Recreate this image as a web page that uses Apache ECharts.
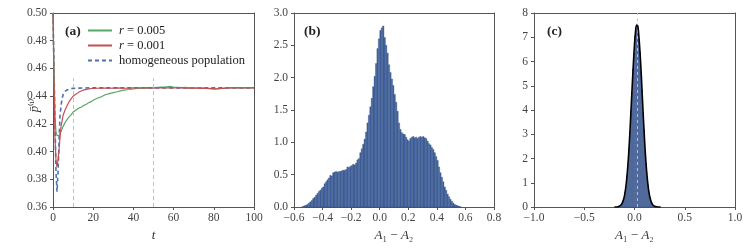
<!DOCTYPE html>
<html>
<head>
<meta charset="utf-8">
<script src="https://cdn.jsdelivr.net/npm/echarts@6/dist/echarts.min.js"></script>
<style>html,body{margin:0;padding:0;background:#fff}#c{width:750px;height:250px}</style>
</head>
<body>
<div id="c"></div>
<script>
// ---------- Panel (a): mean p(1) vs t ----------
const tGreen = [0,0.5,1,1.5,2,2.5,3,3.5,4,5,6,7,8,9,10,11,12,13,14,15,16,17,18,19,20,22,24,26,28,30,32,34,36,38,40,42,44,46,48,50,52,54,56,58,60,62,64,66,68,70,72,74,76,78,80,82,84,86,88,90,92,94,96,98,100];
const pGreen = [0.500,0.460,0.425,0.414,0.4115,0.411,0.4115,0.413,0.4145,0.418,0.421,0.423,0.425,0.4265,0.4285,0.4295,0.4305,0.4315,0.432,0.433,0.4338,0.4345,0.4355,0.436,0.437,0.4385,0.4395,0.441,0.4418,0.4425,0.4432,0.444,0.4445,0.4448,0.4452,0.4455,0.4457,0.4458,0.4458,0.446,0.4463,0.4465,0.4466,0.4470,0.4466,0.4464,0.4462,0.4463,0.4460,0.4461,0.4458,0.4460,0.4457,0.4456,0.4452,0.4454,0.4457,0.4456,0.4459,0.4460,0.4461,0.4460,0.4459,0.4460,0.4461];
const tRed = [0,0.5,1,1.5,2,2.5,3,3.5,4,4.5,5,6,7,8,9,10,11,12,13,14,15,16,17,18,19,20,22,24,26,28,30,32,34,36,38,40,42,44,46,48,50,52,54,56,58,60,62,64,66,68,70,72,74,76,78,80,82,84,86,88,90,92,94,96,98,100];
const pRed = [0.500,0.450,0.410,0.393,0.389,0.394,0.401,0.410,0.418,0.422,0.426,0.430,0.433,0.436,0.438,0.440,0.441,0.442,0.443,0.4437,0.4443,0.4447,0.445,0.4453,0.4455,0.4456,0.4457,0.4458,0.4458,0.4457,0.4458,0.4459,0.4458,0.4457,0.4458,0.4459,0.4460,0.4459,0.4460,0.4461,0.4460,0.4459,0.4461,0.4460,0.4460,0.4459,0.4460,0.4459,0.4458,0.4458,0.4457,0.4457,0.4456,0.4456,0.4454,0.4452,0.4453,0.4456,0.4458,0.4459,0.4459,0.4460,0.4460,0.4459,0.4460,0.4460];
const tBlue = [0,0.5,1,1.5,2,2.5,2.75,3,3.25,3.5,4,4.5,5,6,7,8,9,10,12,15,20,30,40,50,60,70,80,90,100];
const pBlue = [0.500,0.460,0.420,0.385,0.371,0.385,0.395,0.406,0.417,0.426,0.433,0.438,0.441,0.4435,0.4445,0.4450,0.4454,0.4456,0.4458,0.4459,0.4460,0.4460,0.4460,0.4460,0.4460,0.4460,0.4460,0.4460,0.4460];
const vLinesA = [10, 50];
const vLineTopA = 0.453;

// ---------- Panel (b): histogram of A1 - A2 ----------
const binStartB = -0.55, binWidthB = 0.01;
const densityB = [0.00,0.01,0.02,0.03,0.04,0.06,0.08,0.10,0.13,0.15,0.18,0.21,0.24,0.26,0.29,0.31,0.36,0.39,0.42,0.45,0.49,0.48,0.53,0.54,0.55,0.54,0.55,0.55,0.56,0.57,0.57,0.58,0.62,0.61,0.63,0.64,0.66,0.65,0.68,0.73,0.75,0.84,0.90,0.97,1.05,1.16,1.30,1.42,1.55,1.68,1.86,2.02,2.22,2.45,2.60,2.73,2.77,2.80,2.62,2.50,2.38,2.20,2.08,1.98,1.88,1.74,1.62,1.48,1.30,1.20,1.15,1.13,1.12,1.08,1.04,1.02,1.06,1.08,1.09,1.07,1.08,1.06,1.08,1.09,1.08,1.09,1.07,1.06,1.02,0.98,0.96,0.92,0.89,0.84,0.78,0.72,0.62,0.53,0.46,0.39,0.31,0.26,0.20,0.16,0.12,0.09,0.06,0.04,0.03,0.02,0.01,0.005];

// ---------- Panel (c): histogram + fitted curve ----------
const binStartC = -0.17, binWidthC = 0.01;
const densityC = [0.01,0.02,0.04,0.09,0.13,0.24,0.36,0.60,0.85,1.30,1.75,2.45,3.10,4.00,4.75,5.70,6.35,7.05,7.30,7.55,7.40,6.95,6.40,5.60,4.85,3.90,3.20,2.35,1.80,1.25,0.90,0.56,0.38,0.22,0.15,0.08,0.04,0.02,0.01];
const curveXC = [-0.20,-0.18,-0.16,-0.14,-0.12,-0.10,-0.08,-0.06,-0.04,-0.02,0.00,0.01,0.02,0.03,0.04,0.06,0.08,0.10,0.12,0.14,0.16,0.18,0.20,0.22,0.24,0.26];
const curveYC = [0.00,0.00,0.02,0.06,0.18,0.46,1.05,2.07,3.54,5.23,6.71,7.22,7.48,7.48,7.22,6.03,4.38,2.76,1.51,0.71,0.29,0.10,0.03,0.01,0.00,0.00];
const meanC = 0.025;

const FONT = 'Liberation Serif';
const GREEN = '#55a868', RED = '#c44e52', BLUE = '#4c72b0';
const fmtMinus = (d) => (v) => (v < 0 ? '\u2212' : '') + Math.abs(v).toFixed(d);

const zip = (a, b) => a.map((x, i) => [x, b[i]]);
const bins = (start, w, vals) => vals.map((v, i) => [start + i * w, start + (i + 1) * w, v]);

function histRender(params, api) {
  const p0 = api.coord([api.value(0), 0]);
  const p1 = api.coord([api.value(1), api.value(2)]);
  return {
    type: 'rect',
    shape: { x: p0[0], y: p1[1], width: p1[0] - p0[0], height: p0[1] - p1[1] },
    style: { fill: '#4468a6', stroke: '#2b426f', lineWidth: 0.3 }
  };
}

const axisCommon = {
  axisLine: { show: true, onZero: false, lineStyle: { color: '#555', width: 1 } },
  axisTick: { show: true, length: 3, lineStyle: { color: '#555' } },
  splitLine: { show: false },
  axisLabel: { fontFamily: FONT, fontSize: 11.5, color: '#444', margin: 5 }
};
const nameRich = {
  i: { fontFamily: FONT, fontStyle: 'italic', fontSize: 13, color: '#333' },
  n: { fontFamily: FONT, fontSize: 13, color: '#333' },
  s: { fontFamily: FONT, fontSize: 10, color: '#333' }
};

function xAx(idx, min, max, interval, fmt, name) {
  return Object.assign({}, axisCommon, {
    gridIndex: idx, type: 'value', min, max, interval,
    position: 'bottom',
    axisLabel: Object.assign({}, axisCommon.axisLabel, { formatter: fmt, margin: 5 }),
    name, nameLocation: 'middle', nameGap: 22, nameMoveOverlap: false,
    nameTextStyle: { rich: nameRich }
  });
}
function xTop(idx, min, max) {
  return { gridIndex: idx, type: 'value', min, max, position: 'top',
    axisLine: { show: true, onZero: false, lineStyle: { color: '#555' } }, axisTick: { show: false },
    axisLabel: { show: false }, splitLine: { show: false } };
}
function yAx(idx, min, max, interval, fmt, name) {
  return Object.assign({}, axisCommon, {
    gridIndex: idx, type: 'value', min, max, interval,
    position: 'left',
    axisLabel: Object.assign({}, axisCommon.axisLabel, { formatter: fmt, margin: 6 }),
    name: name || '', nameLocation: 'middle', nameGap: 12, nameRotate: 90, nameMoveOverlap: false,
    nameTextStyle: { rich: nameRich, padding: [0, 0, 0, 9] }
  });
}
function yRight(idx, min, max) {
  return { gridIndex: idx, type: 'value', min, max, position: 'right',
    axisLine: { show: true, onZero: false, lineStyle: { color: '#555' } }, axisTick: { show: false },
    axisLabel: { show: false }, splitLine: { show: false } };
}

const chart = echarts.init(document.getElementById('c'), null, { renderer: 'canvas' });
chart.setOption({
  animation: false,
  backgroundColor: '#fff',
  grid: [
    { left: 53, top: 13, width: 201, height: 194 },
    { left: 294, top: 13, width: 200, height: 194 },
    { left: 534, top: 13, width: 201, height: 194 }
  ],
  title: [
    { text: '(a)', left: 60, top: 20, textStyle: { fontFamily: FONT, fontSize: 13.5, fontWeight: 'bold', color: '#222' } },
    { text: '(b)', left: 299, top: 20, textStyle: { fontFamily: FONT, fontSize: 13.5, fontWeight: 'bold', color: '#222' } },
    { text: '(c)', left: 542, top: 20, textStyle: { fontFamily: FONT, fontSize: 13.5, fontWeight: 'bold', color: '#222' } }
  ],
  legend: {
    orient: 'vertical', left: 82, top: 19, itemWidth: 24, itemHeight: 10, itemGap: 2,
    itemStyle: { opacity: 0 },
    data: ['r005', 'r001', 'homo'],
    formatter: (n) => n === 'r005' ? '{i|r} = 0.005' : n === 'r001' ? '{i|r} = 0.001' : 'homogeneous population',
    textStyle: { fontFamily: FONT, fontSize: 12.5, color: '#222', padding: [0,0,0,2],
      rich: { i: { fontFamily: FONT, fontStyle: 'italic', fontSize: 12.5, color: '#222' } } }
  },
  xAxis: [
    xAx(0, 0, 100, 20, (v) => String(v), '{i|t}'),
    xAx(1, -0.6, 0.8, 0.2, fmtMinus(1), '{i|A}{n|\u2081 \u2212 }{i|A}{n|\u2082}'),
    xAx(2, -1, 1, 0.5, fmtMinus(1), '{i|A}{n|\u2081 \u2212 }{i|A}{n|\u2082}'),
    xTop(0, 0, 100), xTop(1, -0.6, 0.8), xTop(2, -1, 1)
  ],
  yAxis: [
    yAx(0, 0.36, 0.50, 0.02, (v) => v.toFixed(2), '{i|p\u0304}{s|\u207D\u00B9\u207E}'),
    yAx(1, 0, 3, 0.5, (v) => v.toFixed(1)),
    yAx(2, 0, 8, 1, (v) => String(v)),
    yRight(0, 0.36, 0.50), yRight(1, 0, 3), yRight(2, 0, 8)
  ],
  series: [
    { name: 'homo', type: 'line', xAxisIndex: 0, yAxisIndex: 0, data: zip(tBlue, pBlue),
      showSymbol: false, symbol: 'none', smooth: false, z: 2,
      lineStyle: { color: BLUE, width: 1.6, type: [4, 3] }, itemStyle: { color: BLUE },
      markLine: { silent: true, symbol: 'none', label: { show: false },
        lineStyle: { color: '#c0c0c0', width: 1, type: [4, 3] },
        data: vLinesA.map((t) => [{ coord: [t, 0.36] }, { coord: [t, vLineTopA] }]) } },
    { name: 'r005', type: 'line', xAxisIndex: 0, yAxisIndex: 0, data: zip(tGreen, pGreen),
      showSymbol: false, symbol: 'none', z: 3,
      lineStyle: { color: GREEN, width: 1.2 }, itemStyle: { color: GREEN } },
    { name: 'r001', type: 'line', xAxisIndex: 0, yAxisIndex: 0, data: zip(tRed, pRed),
      showSymbol: false, symbol: 'none', z: 4,
      lineStyle: { color: RED, width: 1.2 }, itemStyle: { color: RED } },
    { type: 'custom', xAxisIndex: 1, yAxisIndex: 1, renderItem: histRender,
      data: bins(binStartB, binWidthB, densityB), encode: { x: [0, 1], y: 2 } },
    { type: 'custom', xAxisIndex: 2, yAxisIndex: 2, renderItem: histRender,
      data: bins(binStartC, binWidthC, densityC), encode: { x: [0, 1], y: 2 },
      markLine: { silent: true, symbol: 'none', label: { show: false },
        lineStyle: { color: 'rgba(200,200,200,0.9)', width: 1, type: [3, 3] },
        data: [[{ coord: [meanC, 0] }, { coord: [meanC, 8] }]] } },
    { type: 'line', xAxisIndex: 2, yAxisIndex: 2, data: zip(curveXC, curveYC),
      showSymbol: false, symbol: 'none', smooth: 0.4, z: 5,
      lineStyle: { color: '#000', width: 1.6 } }
  ]
});
</script>
</body>
</html>
